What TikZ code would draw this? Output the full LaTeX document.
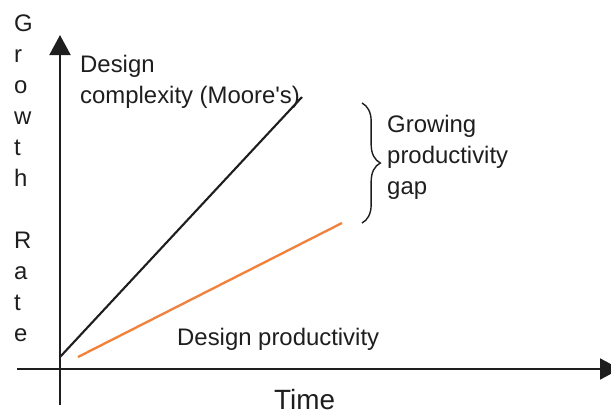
\documentclass[tikz,border=0pt]{standalone}
\usepackage{fontspec}
\setmainfont{Liberation Sans}
\usetikzlibrary{arrows.meta,decorations.pathreplacing}
\definecolor{prodorange}{RGB}{240,130,60}
\definecolor{inkgray}{RGB}{30,30,30}
\begin{document}
\begin{tikzpicture}[x=0.03cm,y=-0.03cm,
  axis/.style={draw=inkgray,line width=1.7pt,-{Triangle[length=0.6cm,width=0.63cm]}},
  txt/.style={text=inkgray,inner sep=0pt,align=left,font=\fontsize{20.4}{26.4}\selectfont}]
\useasboundingbox (0,0) rectangle (611,415);
%Axes
\coordinate (ybot) at (60,405);
\coordinate (ytop) at (60,35);
\coordinate (xleft) at (17,369);
\coordinate (xright) at (620,369);
\draw[axis] (ybot) -- (ytop);
\draw[axis] (xleft) -- (xright);
%Curves
\coordinate (cstart) at (60,357);
\coordinate (cend) at (302,97);
\coordinate (pstart) at (78,357);
\coordinate (pend) at (342,223);
\draw[inkgray,line width=1.8pt] (cstart) -- (cend);
\draw[prodorange,line width=2pt] (pstart) -- (pend);
%Gap
\coordinate (gaptop) at (362,103);
\coordinate (gapbot) at (362,223);
\draw[inkgray,line width=1.2pt,decorate,decoration={brace,amplitude=0.55cm}] (gaptop) -- (gapbot);
%Labels
\node[txt,anchor=north west] (growth) at (14,15) {G\\r\\o\\w\\t\\h\\[26.4pt]R\\a\\t\\e};
\node[txt,anchor=north west] (complexity) at (80,55) {Design\\complexity (Moore\textquotesingle s)};
\node[txt,anchor=north west] (gap) at (387,115) {Growing\\productivity\\gap};
\node[txt,anchor=north west] (productivity) at (177,328) {Design productivity};
\node[txt,anchor=north west,font=\fontsize{23.8}{28}\selectfont] (time) at (274,389) {Time};
\end{tikzpicture}
\end{document}
